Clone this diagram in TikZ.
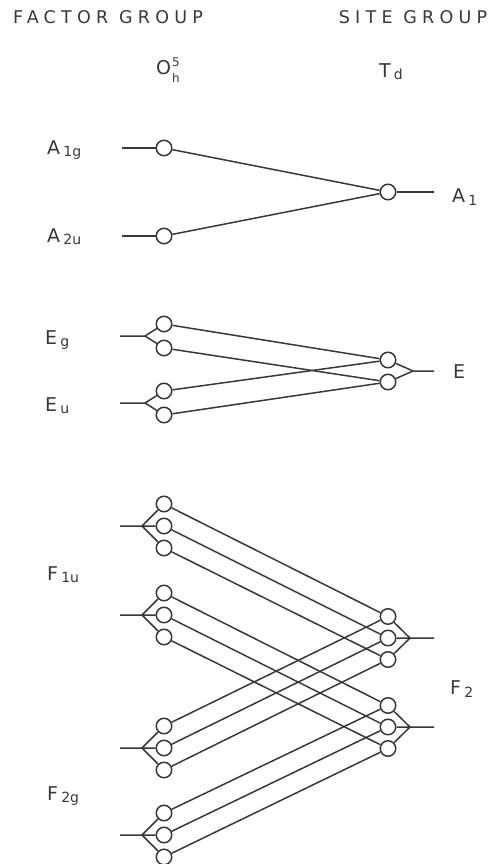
\documentclass[tikz,border=0pt]{standalone}
\usepackage{fontspec}
\setmainfont{DejaVu Sans}
\newcommand{\subtxt}[1]{{\fontsize{14}{14}\selectfont\raisebox{-0.3ex}{#1}}}
\begin{document}
\begin{tikzpicture}[x=1pt,y=-1pt,
  ln/.style={line width=1.5pt,draw=black!78},
  sym/.style={circle,ln,minimum size=15.5pt,inner sep=0pt},
  lab/.style={font=\fontsize{19}{19}\selectfont,text=black!78,inner sep=0pt},
  hdr/.style={font=\fontsize{17.5}{17.5}\selectfont\addfontfeatures{LetterSpace=30},text=black!78,inner sep=0pt}]
\useasboundingbox (0,0) rectangle (498,864);
% headers
\node[hdr] (hf) at (108,17) {FACTOR GROUP};
\node[hdr] (hs) at (413,17) {SITE GROUP};
\node[lab] (oh) at (168,72) {O\hspace{1pt}{\fontsize{12}{12}\selectfont\begin{tabular}[c]{@{}l@{}}5\\[3pt]h\end{tabular}}};
\node[lab] (td) at (391,72) {T\,\subtxt{d}};
% A block
\node[lab,anchor=west] (la1g) at (47,150) {A\,\subtxt{1g}};
\node[lab,anchor=west] (la2u) at (47,237) {A\,\subtxt{2u}};
\node[lab,anchor=west] (la1) at (452,197) {A\,\subtxt{1}};
\node[sym] (a1) at (164,148) {};
\node[sym] (a2) at (164,236) {};
\node[sym] (ra) at (388,192) {};
\coordinate (sa1) at (122,148);
\coordinate (sa2) at (122,236);
\coordinate (ta) at (434,192);
\draw[ln] (sa1) -- (a1);
\draw[ln] (sa2) -- (a2);
\draw[ln] (ra) -- (ta);
\draw[ln] (a1) -- (ra);
\draw[ln] (a2) -- (ra);
% E block
\node[lab,anchor=west] (leg) at (45,340) {E\,\subtxt{g}};
\node[lab,anchor=west] (leu) at (45,406) {E\,\subtxt{u}};
\node[lab,anchor=west] (le) at (453,372) {E};
\node[sym] (eg1) at (164,324) {};
\node[sym] (eg2) at (164,348) {};
\node[sym] (eu1) at (164,391) {};
\node[sym] (eu2) at (164,415) {};
\node[sym] (re1) at (388,360) {};
\node[sym] (re2) at (388,382) {};
\coordinate (seg) at (120,336);
\coordinate (feg) at (145,336);
\coordinate (seu) at (120,403);
\coordinate (feu) at (145,403);
\coordinate (fre) at (413,371);
\coordinate (tre) at (434,371);
\draw[ln] (seg) -- (feg) (feg) -- (eg1) (feg) -- (eg2);
\draw[ln] (seu) -- (feu) (feu) -- (eu1) (feu) -- (eu2);
\draw[ln] (tre) -- (fre) (fre) -- (re1) (fre) -- (re2);
\draw[ln] (eg1) -- (re1);
\draw[ln] (eg2) -- (re2);
\draw[ln] (eu1) -- (re1);
\draw[ln] (eu2) -- (re2);
% F block
\node[lab,anchor=west] (lf1u) at (47,575) {F\,\subtxt{1u}};
\node[lab,anchor=west] (lf2g) at (47,796) {F\,\subtxt{2g}};
\node[lab,anchor=west] (lf2) at (450,689) {F\,\subtxt{2}};
\foreach \g/\y in {g1/526,g2/615,g3/748,g4/835}{
  \node[sym] (\g a) at (164,\y-22) {};
  \node[sym] (\g b) at (164,\y) {};
  \node[sym] (\g c) at (164,\y+22) {};
  \coordinate (\g s) at (120,\y);
  \coordinate (\g f) at (142,\y);
  \draw[ln] (\g s) -- (\g f) (\g f) -- (\g a) (\g f) -- (\g b) (\g f) -- (\g c);
}
\foreach \r/\y in {r1/638,r2/727}{
  \node[sym] (\r a) at (388,\y-21.5) {};
  \node[sym] (\r b) at (388,\y) {};
  \node[sym] (\r c) at (388,\y+21.5) {};
  \coordinate (\r f) at (410,\y);
  \coordinate (\r t) at (434,\y);
  \draw[ln] (\r t) -- (\r f) (\r f) -- (\r a) (\r f) -- (\r b) (\r f) -- (\r c);
}
\foreach \k in {a,b,c}{
  \draw[ln] (g1\k) -- (r1\k);
  \draw[ln] (g3\k) -- (r1\k);
  \draw[ln] (g2\k) -- (r2\k);
  \draw[ln] (g4\k) -- (r2\k);
}
\end{tikzpicture}
\end{document}
